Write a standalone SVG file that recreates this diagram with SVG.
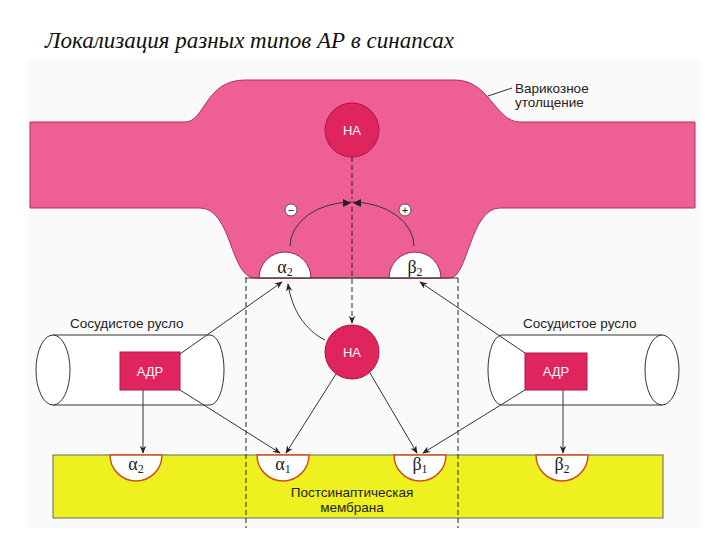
<svg xmlns="http://www.w3.org/2000/svg" width="720" height="540" viewBox="0 0 720 540">
<defs>
<marker id="ar" viewBox="0 0 10 10" refX="9" refY="5" markerWidth="8" markerHeight="8" orient="auto-start-reverse" markerUnits="userSpaceOnUse"><path d="M0,1 L10,5 L0,9 L3,5 Z" fill="#222"/></marker>
<style>
.t{font-family:"Liberation Sans",Arial,sans-serif;font-size:13.5px;fill:#222}
.ln{stroke:#333;stroke-width:1;fill:none}
.ds{stroke:#222;stroke-width:1;stroke-dasharray:5,3;fill:none}
.cyl{fill:#fff;stroke:#333;stroke-width:1}
.box{fill:#e0245e;stroke:#b01848}
.na{fill:#e0245e;stroke:#a81640}
.wt{font-family:"Liberation Sans",Arial,sans-serif;font-size:13px;fill:#fff;text-anchor:middle}
.gk{font-family:"Liberation Serif","Times New Roman",serif;font-size:18px;fill:#222;text-anchor:middle}
.sub{font-size:12px}
</style>
</defs>
<rect width="720" height="540" fill="#fff"/>
<text x="45" y="48" font-family="Liberation Serif,serif" font-size="23" font-style="italic" fill="#111">Локализация разных типов АР в синапсах</text>
<rect x="28" y="58" width="672" height="470" fill="#fafafa"/>
<g id="terminal">
<path d="M30,122 L185,122 C205,122 205,80 245,80 L455,80 C490,80 495,122 520,122 L695,122 L695,208 L500,208 C470,208 468,278 450,278 L255,278 C230,278 232,208 200,208 L30,208 Z" fill="#ee5f95" stroke="#b0335f" stroke-width="1"/>
<path d="M259,278 A26,26 0 0 1 311,278 Z" fill="#fff" stroke="#8a2a4a"/>
<path d="M389,278 A26,26 0 0 1 441,278 Z" fill="#fff" stroke="#8a2a4a"/>
<line x1="245" y1="278" x2="458" y2="278" stroke="#333"/>
<text class="gk" x="285" y="273">α<tspan class="sub" dy="3">2</tspan></text>
<text class="gk" x="415" y="273">β<tspan class="sub" dy="3">2</tspan></text>
<path d="M290,246 A62,44 0 0 1 414,246" class="ln"/>
<path d="M343,199 L351,203 L343,207 Z M361,199 L353,203 L361,207 Z" fill="#222"/>
<circle cx="291" cy="210" r="6" fill="#fff" stroke="#555"/><text x="291" y="214" font-family="Liberation Sans,sans-serif" font-size="11" text-anchor="middle" fill="#222">−</text>
<circle cx="405" cy="210" r="6" fill="#fff" stroke="#555"/><text x="405" y="214" font-family="Liberation Sans,sans-serif" font-size="11" text-anchor="middle" fill="#222">+</text>
</g>
<g id="na-top"><circle class="na" cx="352" cy="130" r="27"/><text class="wt" x="352" y="135">НА</text></g>
<g id="label-var"><text class="t" x="515" y="93">Варикозное</text><text class="t" x="515" y="107">утолщение</text><line class="ln" x1="488" y1="96" x2="512" y2="88"/></g>
<g id="vessel-left">
<path class="cyl" d="M53,335 L210,335 A14,35 0 0 1 210,405 L53,405 Z"/>
<ellipse class="cyl" cx="53" cy="370" rx="17" ry="35"/>
<text class="t" x="70" y="328">Сосудистое русло</text>
<rect class="box" x="120" y="352" width="60" height="38"/><text class="wt" x="150" y="376">АДР</text>
</g>
<g id="vessel-right">
<path class="cyl" d="M662,335 L502,335 A14,35 0 0 0 502,405 L662,405 Z"/>
<ellipse class="cyl" cx="662" cy="370" rx="17" ry="35"/>
<text class="t" x="523" y="328">Сосудистое русло</text>
<rect class="box" x="525" y="353" width="62" height="37"/><text class="wt" x="556" y="376">АДР</text>
</g>
<g id="membrane">
<rect x="53" y="455" width="610" height="63" fill="#eef020" stroke="#666"/>
<path d="M110,455 A26,26 0 0 0 162,455 Z" fill="#fff" stroke="#d0501a" stroke-width="1.5"/>
<path d="M257,455 A26,26 0 0 0 309,455 Z" fill="#fff" stroke="#d0501a" stroke-width="1.5"/>
<path d="M394,455 A26,26 0 0 0 446,455 Z" fill="#fff" stroke="#d0501a" stroke-width="1.5"/>
<path d="M536,455 A26,26 0 0 0 588,455 Z" fill="#fff" stroke="#d0501a" stroke-width="1.5"/>
<text class="gk" x="136" y="470">α<tspan class="sub" dy="3">2</tspan></text>
<text class="gk" x="283" y="470">α<tspan class="sub" dy="3">1</tspan></text>
<text class="gk" x="420" y="470">β<tspan class="sub" dy="3">1</tspan></text>
<text class="gk" x="562" y="470">β<tspan class="sub" dy="3">2</tspan></text>
<text class="t" x="352" y="497" text-anchor="middle">Постсинаптическая</text>
<text class="t" x="352" y="512" text-anchor="middle">мембрана</text>
</g>
<g id="na-bottom"><circle class="na" cx="352" cy="352" r="27"/><text class="wt" x="352" y="357">НА</text></g>
<g id="connectors">
<line class="ds" x1="352" y1="157" x2="352" y2="199"/>
<line class="ds" x1="352" y1="207" x2="352" y2="323" marker-end="url(#ar)"/>
<line class="ds" x1="246" y1="278" x2="246" y2="528"/>
<line class="ds" x1="458" y1="278" x2="458" y2="528"/>
<line class="ln" x1="180" y1="354" x2="282" y2="282" marker-end="url(#ar)"/>
<line class="ln" x1="180" y1="390" x2="280" y2="453" marker-end="url(#ar)"/>
<line class="ln" x1="143" y1="390" x2="143" y2="453" marker-end="url(#ar)"/>
<path class="ln" d="M325,340 C305,330 292,310 288,284" marker-end="url(#ar)"/>
<line class="ln" x1="336" y1="374" x2="286" y2="453" marker-end="url(#ar)"/>
<line class="ln" x1="370" y1="373" x2="417" y2="453" marker-end="url(#ar)"/>
<line class="ln" x1="525" y1="353" x2="420" y2="282" marker-end="url(#ar)"/>
<line class="ln" x1="525" y1="390" x2="423" y2="453" marker-end="url(#ar)"/>
<line class="ln" x1="563" y1="390" x2="563" y2="453" marker-end="url(#ar)"/>
</g>
</svg>
